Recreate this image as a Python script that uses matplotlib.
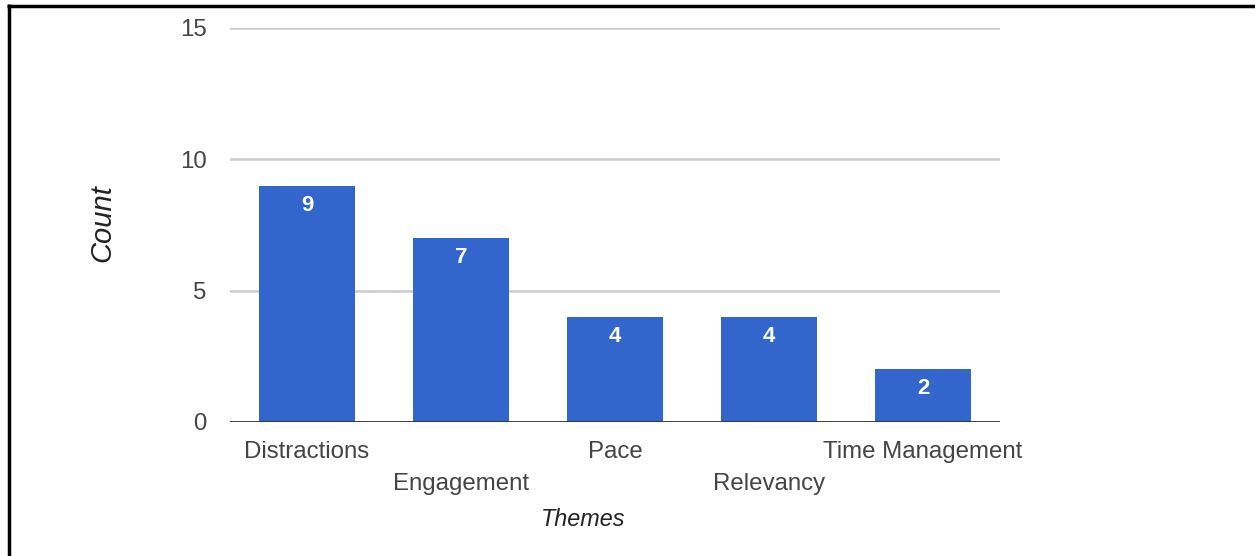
import matplotlib
matplotlib.use("Agg")
import matplotlib.pyplot as plt
from matplotlib.lines import Line2D

categories = ["Distractions", "Engagement", "Pace", "Relevancy", "Time Management"]
counts = [9, 7, 4, 4, 2]
yticks = [0, 5, 10, 15]

plt.rcParams['font.family'] = ['Liberation Sans', 'DejaVu Sans']

W, H = 1255, 556
fig = plt.figure(figsize=(W / 100, H / 100), dpi=100)
ax = fig.add_axes([230 / W, (H - 422) / H, 770 / W, 394 / H])

x = list(range(len(categories)))
bars = ax.bar(x, counts, width=0.62, color="#3366CC", zorder=3)
for xi, v in zip(x, counts):
    ax.annotate(str(v), (xi, v), xytext=(0, -6.5), textcoords="offset points",
                ha="center", va="top", color="white", fontsize=16, fontweight="bold", zorder=4)

ax.set_xlim(-0.5, len(categories) - 0.5)
ax.set_ylim(0, 15)
ax.set_yticks(yticks)
ax.set_yticklabels([str(t) for t in yticks])
ax.yaxis.grid(True, color="#cccccc", linewidth=1.8, zorder=0)
ax.set_axisbelow(True)
ax.axhline(0, color="#333333", linewidth=2, zorder=5)
for s in ax.spines.values():
    s.set_visible(False)

ax.set_xticks(x)
ax.set_xticklabels(categories)
ax.tick_params(axis="both", length=0, labelsize=17.3, labelcolor="#444444")
ax.tick_params(axis="y", pad=17)
for i, t in enumerate(ax.xaxis.get_major_ticks()):
    t.set_pad(13.5 if i % 2 == 0 else 36.5)

fig.text(583 / W, 1 - 519 / H, "Themes", ha="center", va="center", fontsize=16.8,
         style="italic", color="#222222")
fig.text(102 / W, 1 - 223 / H, "Count", ha="center", va="center", fontsize=21,
         style="italic", color="#222222", rotation=90)

fig.add_artist(Line2D([8.5 / W, 8.5 / W], [0, 1 - 4 / H], transform=fig.transFigure,
                      color="black", linewidth=2.5, solid_capstyle="butt"))
fig.add_artist(Line2D([7 / W, 1], [1 - 5.5 / H, 1 - 5.5 / H], transform=fig.transFigure,
                      color="black", linewidth=2.5, solid_capstyle="butt"))

fig.savefig("out.png", dpi=100)
